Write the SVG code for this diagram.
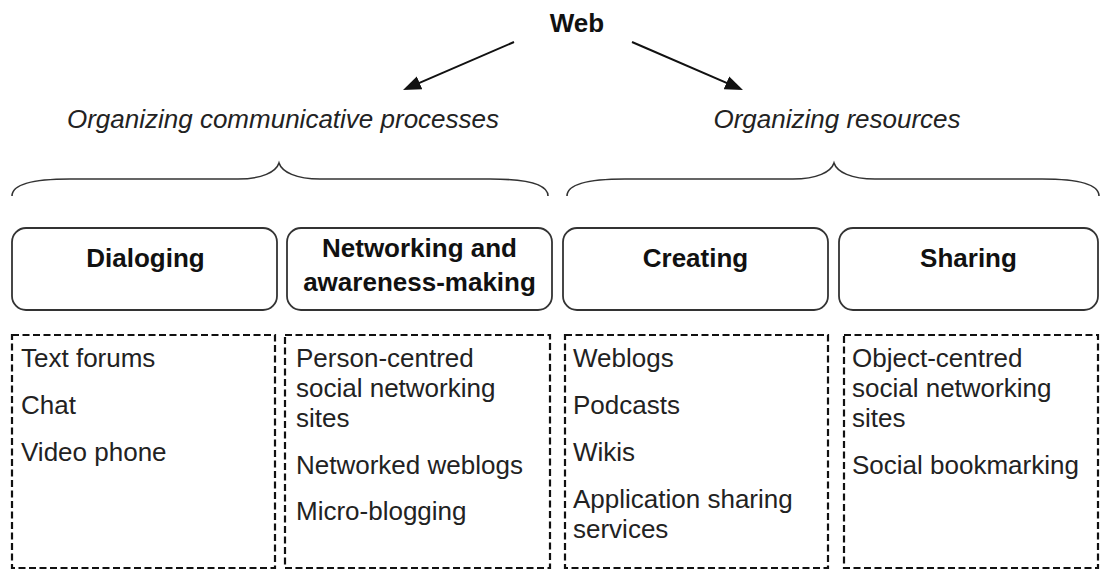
<svg xmlns="http://www.w3.org/2000/svg" width="1101" height="570" viewBox="0 0 1101 570">
<defs>
<marker id="arr" markerUnits="userSpaceOnUse" markerWidth="20" markerHeight="16" refX="14" refY="7" orient="auto" viewBox="0 0 20 14">
<path d="M0,0 L18,7 L0,14 z" fill="#111"/>
</marker>
</defs>
<style>
text{font-family:"Liberation Sans",Arial,Helvetica,sans-serif;fill:#111}
.title{font-size:26px;font-weight:bold}
.cat{font-size:26px;font-style:italic;fill:#222}
.lbl{font-size:26px;font-weight:bold}
.item{font-size:26px;fill:#222}
.box{fill:#fff;stroke:#333;stroke-width:1.8}
.dash{fill:none;stroke:#111;stroke-width:2.2;stroke-dasharray:7 3.5}
.brace{fill:none;stroke:#333;stroke-width:1.6}
.conn{stroke:#111;stroke-width:2;fill:none}
</style>
<rect width="1101" height="570" fill="#fff"/>
<g id="web"><text class="title" x="577" y="32" text-anchor="middle">Web</text></g>
<g id="connectors">
<line class="conn" x1="514" y1="42" x2="406.7" y2="88.4" marker-end="url(#arr)"/>
<line class="conn" x1="632" y1="42" x2="739.3" y2="88.4" marker-end="url(#arr)"/>
<path class="brace" d="M12,196 C12,184 35,179 70,179 L238,179 C262,179 276,172 279,163 C282,172 296,179 320,179 L490,179 C525,179 548,184 548,196"/>
<path class="brace" d="M567,196 C567,184 590,179 625,179 L793,179 C817,179 831,172 834,163 C837,172 851,179 875,179 L1042,179 C1077,179 1099,184 1099,196"/>
</g>
<g id="cat-communicative"><text class="cat" x="283" y="128" text-anchor="middle">Organizing communicative processes</text></g>
<g id="cat-resources"><text class="cat" x="837" y="128" text-anchor="middle">Organizing resources</text></g>
<g id="dialoging">
<rect class="box" x="12" y="228" width="265" height="82" rx="14"/>
<text class="lbl" x="145.5" y="267" text-anchor="middle">Dialoging</text>
</g>
<g id="networking">
<rect class="box" x="287" y="228" width="265" height="82" rx="14"/>
<text class="lbl" x="419.5" y="257" text-anchor="middle">Networking and</text>
<text class="lbl" x="419.5" y="291" text-anchor="middle">awareness-making</text>
</g>
<g id="creating">
<rect class="box" x="563" y="228" width="265" height="82" rx="14"/>
<text class="lbl" x="695.5" y="267" text-anchor="middle">Creating</text>
</g>
<g id="sharing">
<rect class="box" x="839" y="228" width="259" height="82" rx="14"/>
<text class="lbl" x="968.5" y="267" text-anchor="middle">Sharing</text>
</g>
<g id="list-dialoging">
<rect class="dash" x="12" y="335" width="263" height="233"/>
<text class="item" x="21" y="367">Text forums</text>
<text class="item" x="21" y="414">Chat</text>
<text class="item" x="21" y="461">Video phone</text>
</g>
<g id="list-networking">
<rect class="dash" x="285" y="335" width="265" height="233"/>
<text class="item" x="296" y="367">Person-centred</text>
<text class="item" x="296" y="397">social networking</text>
<text class="item" x="296" y="427">sites</text>
<text class="item" x="296" y="474">Networked weblogs</text>
<text class="item" x="296" y="520">Micro-blogging</text>
</g>
<g id="list-creating">
<rect class="dash" x="565" y="335" width="263" height="233"/>
<text class="item" x="573" y="367">Weblogs</text>
<text class="item" x="573" y="414">Podcasts</text>
<text class="item" x="573" y="461">Wikis</text>
<text class="item" x="573" y="508">Application sharing</text>
<text class="item" x="573" y="538">services</text>
</g>
<g id="list-sharing">
<rect class="dash" x="844" y="335" width="254" height="233"/>
<text class="item" x="852" y="367">Object-centred</text>
<text class="item" x="852" y="397">social networking</text>
<text class="item" x="852" y="427">sites</text>
<text class="item" x="852" y="474">Social bookmarking</text>
</g>
</svg>
